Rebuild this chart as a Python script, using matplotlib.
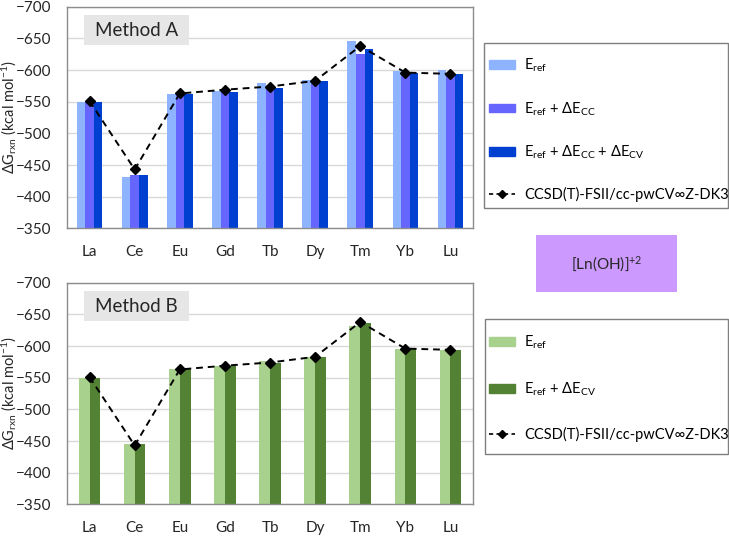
import numpy as np
import matplotlib
matplotlib.use('Agg')
import matplotlib.pyplot as plt
from matplotlib.patches import Rectangle, Patch
from matplotlib.lines import Line2D

plt.rcParams['font.family'] = ['Lato', 'DejaVu Sans']
plt.rcParams['mathtext.fontset'] = 'custom'
plt.rcParams['mathtext.rm'] = 'Lato'
plt.rcParams['mathtext.it'] = 'Lato:italic'

elements = ['La', 'Ce', 'Eu', 'Gd', 'Tb', 'Dy', 'Tm', 'Yb', 'Lu']

# Method A
a_eref = [-549, -431, -562, -567, -580, -585, -646, -599, -600]
a_cc = [-549, -434, -562, -567, -574, -584, -626, -596, -596]
a_cv = [-549, -434, -562, -566, -571, -582, -634, -595, -593]

# Method B
b_eref = [-549, -446, -563, -568, -577, -583, -632, -595, -594]
b_cv = [-550, -446, -563, -569, -574, -582, -637, -595, -594]

# reference CCSD(T) values
ccsd = [-551, -443, -563, -569, -574, -583, -638, -596, -594]

ccsd_label = 'CCSD(T)-FSII/cc-pwCV\u221eZ-DK3'
base = -350
x = np.arange(len(elements))
W, H = 729, 536

fig = plt.figure(figsize=(7.29, 5.36), dpi=100)
ax1 = fig.add_axes([0.0919, 0.574, 0.557, 0.4134])
ax2 = fig.add_axes([0.0919, 0.0591, 0.557, 0.4134])


def style_axis(ax, title):
    ax.set_ylim(-350, -700)
    ax.set_xlim(-0.5, len(elements) - 0.5)
    ax.set_yticks(np.arange(-700, -349, 50))
    ax.set_xticks(x)
    ax.set_xticklabels(elements)
    ax.tick_params(length=0, labelsize=11, colors='#262626')
    ax.tick_params(axis='y', pad=11)
    ax.tick_params(axis='x', pad=12)
    ax.yaxis.grid(True, color='#D9D9D9', lw=1)
    ax.set_axisbelow(True)
    for s in ax.spines.values():
        s.set_color('#8C8C8C')
        s.set_linewidth(1)
    ax.set_ylabel(r'$\Delta$G$_{\mathregular{rxn}}$ (kcal mol$^{\mathregular{-1}}$)',
                  fontsize=10.5, color='#262626')
    ax.yaxis.set_label_coords(-0.117, 0.5)
    ax.add_patch(Rectangle((0.042, 0.827), 0.258, 0.136, transform=ax.transAxes,
                           fc='#E6E6E6', ec='none', zorder=3))
    ax.text(0.171, 0.895, title, transform=ax.transAxes, ha='center', va='center',
            fontsize=13.5, color='#262626', zorder=4)
    ax.plot(x, ccsd, ls=(0, (3.5, 2.5)), color='black', lw=1.4, marker='D',
            markersize=5.5, zorder=5)


# top panel
w = 0.19
ax1.bar(x - w, np.array(a_eref) - base, bottom=base, width=w, color='#8FB4FF', zorder=2)
ax1.bar(x, np.array(a_cc) - base, bottom=base, width=w, color='#6666FF', zorder=2)
ax1.bar(x + w, np.array(a_cv) - base, bottom=base, width=w, color='#0040D0', zorder=2)
style_axis(ax1, 'Method A')

# bottom panel
w2 = 0.24
ax2.bar(x - w2 / 2, np.array(b_eref) - base, bottom=base, width=w2, color='#A9D18E', zorder=2)
ax2.bar(x + w2 / 2, np.array(b_cv) - base, bottom=base, width=w2, color='#548235', zorder=2)
style_axis(ax2, 'Method B')

line_handle = Line2D([], [], ls=(0, (2.5, 2.0)), color='black', lw=1.2, marker='D', markersize=4.5)

leg_kw = dict(loc='upper left', borderaxespad=0, borderpad=0, fontsize=10.5,
              handlelength=1.8, handleheight=0.55, handletextpad=0.6,
              frameon=False, bbox_transform=fig.transFigure)


def legend_frame(x0, y0, x1, y1):
    fig.patches.append(Rectangle((x0 / W, 1 - y1 / H), (x1 - x0) / W, (y1 - y0) / H,
                                 transform=fig.transFigure, fc='white', ec='#7F7F7F', lw=1))


legend_frame(484, 43, 728, 208)
h1 = [Patch(color='#8FB4FF'), Patch(color='#6666FF'), Patch(color='#0040D0'), line_handle]
l1 = [r'E$_{\mathregular{ref}}$',
      r'E$_{\mathregular{ref}}$ + $\Delta$E$_{\mathregular{CC}}$',
      r'E$_{\mathregular{ref}}$ + $\Delta$E$_{\mathregular{CC}}$ + $\Delta$E$_{\mathregular{CV}}$',
      ccsd_label]
fig.legend(h1, l1, bbox_to_anchor=(489 / W, 1 - 57 / H), labelspacing=1.77, **leg_kw)

legend_frame(485, 319, 728, 454)
h2 = [Patch(color='#A9D18E'), Patch(color='#548235'), line_handle]
l2 = [r'E$_{\mathregular{ref}}$',
      r'E$_{\mathregular{ref}}$ + $\Delta$E$_{\mathregular{CV}}$',
      ccsd_label]
fig.legend(h2, l2, bbox_to_anchor=(489 / W, 1 - 334 / H), labelspacing=1.98, **leg_kw)

# species label
fig.patches.append(Rectangle((536 / W, 1 - 292 / H), 141 / W, 57 / H,
                             transform=fig.transFigure, fc='#CC99FF', ec='none'))
fig.text(606.5 / W, 1 - 264 / H, r'[Ln(OH)]$^{\mathregular{+2}}$', ha='center',
         va='center', fontsize=11, color='#262626')

fig.savefig('out.png', dpi=100)
